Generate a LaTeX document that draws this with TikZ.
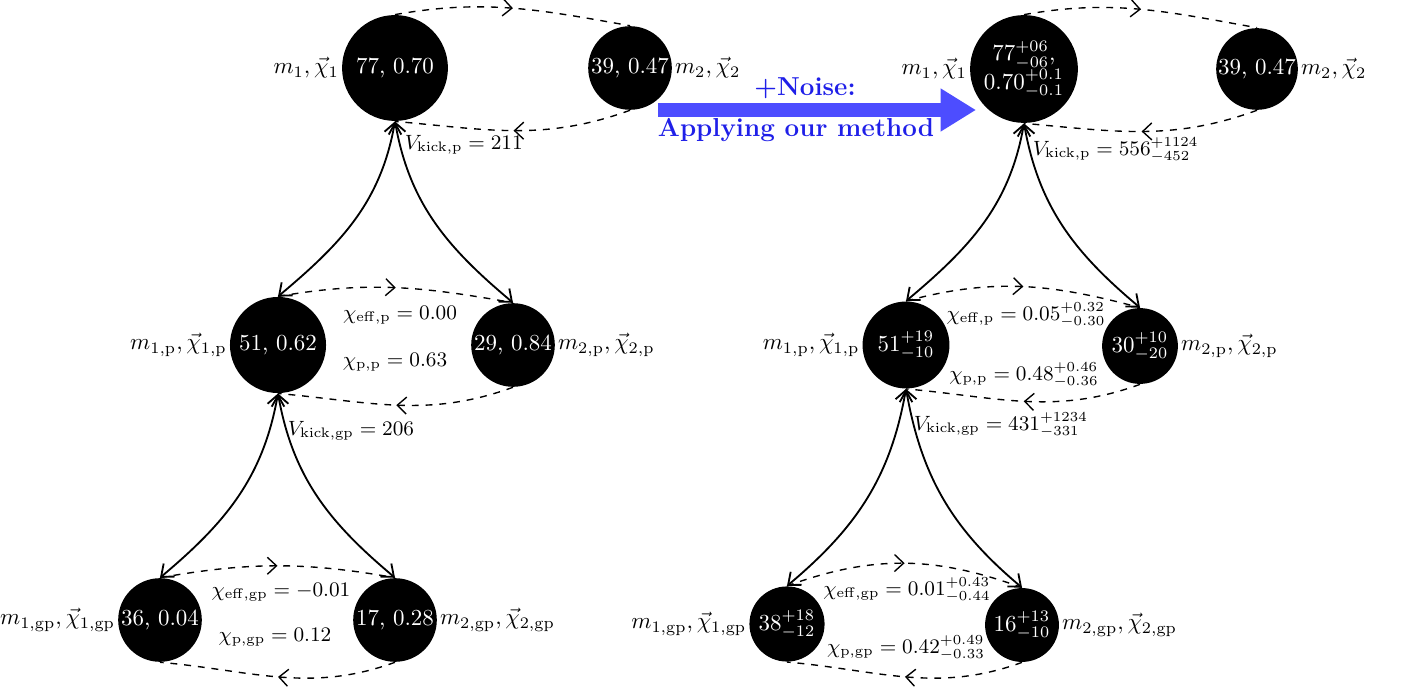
\documentclass[tikz,border=0pt]{standalone}
\usepackage{amsmath,amssymb}
\usepackage{xcolor}
\usepackage{tikz}
\usetikzlibrary{arrows.meta,decorations.markings,backgrounds}
\definecolor{noisec}{HTML}{4D4DFF}
\definecolor{noiset}{HTML}{1F1FE8}
\tikzset{
  bh/.style={circle,fill=black,text=white,inner sep=0pt,align=center},
  orb/.style={dashed,semithick,postaction={decorate},
    decoration={markings,mark=at position 0.5 with {\arrow{Straight Barb[length=1.4mm,width=2.6mm]}}}},
  kick/.style={{Straight Barb[length=1.6mm,width=2.6mm]}-{Straight Barb[length=1.6mm,width=2.6mm]},thick},
  lab/.style={inner sep=1pt},
  val/.style={font=\small,inner sep=1pt}
}

\begin{document}
\begin{tikzpicture}[x=0.0153cm,y=0.0153cm]
\useasboundingbox (0,0) rectangle (1408,692);
% left: measured values
\node[bh,minimum size=1.62cm] (m1) at (395,624) {77, 0.70};
\node[bh,minimum size=1.28cm] (m2) at (630,624) {39, 0.47};
\node[bh,minimum size=1.47cm] (m1p) at (278,347) {51, 0.62};
\node[bh,minimum size=1.28cm] (m2p) at (513,347) {29, 0.84};
\node[bh,minimum size=1.28cm] (m1gp) at (160,72) {36, 0.04};
\node[bh,minimum size=1.28cm] (m2gp) at (395,72) {17, 0.28};
\node[lab,left] (lm1) at (m1.west) {$m_1,\vec{\chi}_1$};
\node[lab,right] (lm2) at (m2.east) {$m_2,\vec{\chi}_2$};
\node[lab,left] (lm1p) at (m1p.west) {$m_{1,\rm p},\vec{\chi}_{1,\rm p}$};
\node[lab,right] (lm2p) at (m2p.east) {$m_{2,\rm p},\vec{\chi}_{2,\rm p}$};
\node[lab,left] (lm1gp) at (m1gp.west) {$m_{1,\rm gp},\vec{\chi}_{1,\rm gp}$};
\node[lab,right] (lm2gp) at (m2gp.east) {$m_{2,\rm gp},\vec{\chi}_{2,\rm gp}$};
\draw[orb] (m1.north) to[out=10,in=170] (m2.north);
\draw[orb] (m2.south) to[out=-160,in=-5] (m1.south);
\draw[orb] (m1p.north) to[out=10,in=170] (m2p.north);
\draw[orb] (m2p.south) to[out=-160,in=-5] (m1p.south);
\draw[orb] (m1gp.north) to[out=10,in=170] (m2gp.north);
\draw[orb] (m2gp.south) to[out=-160,in=-5] (m1gp.south);
\begin{scope}[on background layer]
\draw[kick] (m1p.north) to[out=40,in=-100] (m1.south);
\draw[kick] (m2p.north) to[out=140,in=-80] (m1.south);
\draw[kick] (m1gp.north) to[out=40,in=-100] (m1p.south);
\draw[kick] (m2gp.north) to[out=140,in=-80] (m1p.south);
\end{scope}
\node[val,anchor=west] (vk) at (402,547) {$V_{\rm kick,p}=211$};
\node[val,anchor=west] (vkg) at (285,261) {$V_{\rm kick,gp}=206$};
\node[val] (xe) at (400,377) {$\chi_{\rm eff,p}=0.00$};
\node[val] (xp) at (395,330) {$\chi_{\rm p,p}=0.63$};
\node[val] (xeg) at (281,100) {$\chi_{\rm eff,gp}=-0.01$};
\node[val] (xpg) at (275,55) {$\chi_{\rm p,gp}=0.12$};
% noise arrow
\coordinate (na) at (658,582);
\coordinate (nb) at (976,582);
\draw[-{Triangle[length=5.4mm,width=6.2mm]},line width=6pt,noisec] (na) -- (nb);
\node[noiset,font=\bfseries\fontsize{11.3}{13}\selectfont] (nz) at (805,604) {+Noise:};
\node[noiset,font=\bfseries\fontsize{11.3}{13}\selectfont] (am) at (796,562) {Applying our method};
% right: with noise
\node[bh,minimum size=1.65cm] (M1) at (1024,623) {$77^{+06}_{-06}$,\\[-1pt]$0.70^{+0.1}_{-0.1}$};
\node[bh,minimum size=1.25cm] (M2) at (1257,623) {39, 0.47};
\node[bh,minimum size=1.33cm] (M1p) at (906,347) {$51^{+19}_{-10}$};
\node[bh,minimum size=1.16cm] (M2p) at (1140,346) {$30^{+10}_{-20}$};
\node[bh,minimum size=1.15cm] (M1gp) at (787,68) {$38^{+18}_{-12}$};
\node[bh,minimum size=1.13cm] (M2gp) at (1022,67) {$16^{+13}_{-10}$};
\node[lab,left] (LM1) at (M1.west) {$m_1,\vec{\chi}_1$};
\node[lab,right] (LM2) at (M2.east) {$m_2,\vec{\chi}_2$};
\node[lab,left] (LM1p) at (M1p.west) {$m_{1,\rm p},\vec{\chi}_{1,\rm p}$};
\node[lab,right] (LM2p) at (M2p.east) {$m_{2,\rm p},\vec{\chi}_{2,\rm p}$};
\node[lab,left] (LM1gp) at (M1gp.west) {$m_{1,\rm gp},\vec{\chi}_{1,\rm gp}$};
\node[lab,right] (LM2gp) at (M2gp.east) {$m_{2,\rm gp},\vec{\chi}_{2,\rm gp}$};
\draw[orb] (M1.north) to[out=10,in=170] (M2.north);
\draw[orb] (M2.south) to[out=-160,in=-5] (M1.south);
\draw[orb] (M1p.north) to[out=15,in=165] (M2p.north);
\draw[orb] (M2p.south) to[out=-160,in=-5] (M1p.south);
\draw[orb] (M1gp.north) to[out=20,in=160] (M2gp.north);
\draw[orb] (M2gp.south) to[out=-160,in=-5] (M1gp.south);
\begin{scope}[on background layer]
\draw[kick] (M1p.north) to[out=40,in=-100] (M1.south);
\draw[kick] (M2p.north) to[out=140,in=-80] (M1.south);
\draw[kick] (M1gp.north) to[out=40,in=-100] (M1p.south);
\draw[kick] (M2gp.north) to[out=140,in=-80] (M1p.south);
\end{scope}
\node[val,anchor=west] (VK) at (1030,542) {$V_{\rm kick,p}=556^{+1124}_{-452}$};
\node[val,anchor=west] (VKg) at (911,267) {$V_{\rm kick,gp}=431^{+1234}_{-331}$};
\node[val] (XE) at (1026,377) {$\chi_{\rm eff,p}=0.05^{+0.32}_{-0.30}$};
\node[val] (XP) at (1024,317) {$\chi_{\rm p,p}=0.48^{+0.46}_{-0.36}$};
\node[val] (XEg) at (907,102) {$\chi_{\rm eff,gp}=0.01^{+0.43}_{-0.44}$};
\node[val] (XPg) at (906,44) {$\chi_{\rm p,gp}=0.42^{+0.49}_{-0.33}$};
\end{tikzpicture}
\end{document}
